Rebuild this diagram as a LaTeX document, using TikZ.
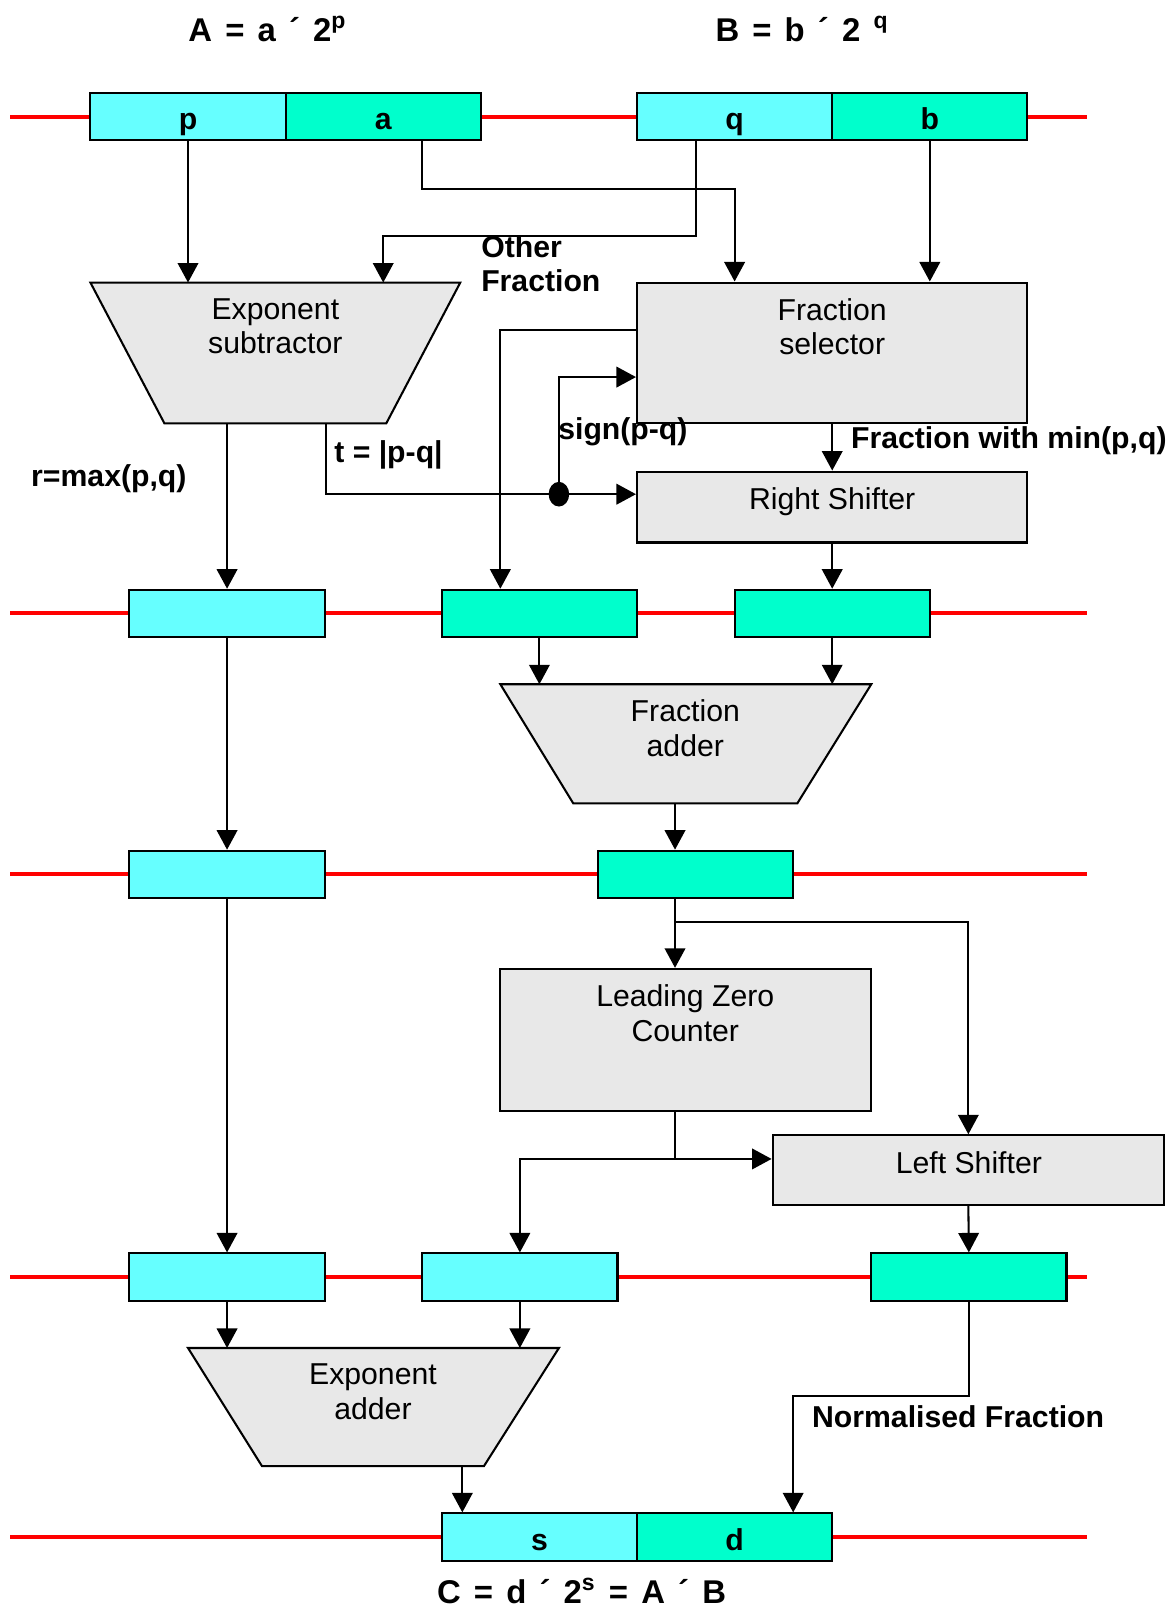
\documentclass[tikz,border=0pt]{standalone}
\usepackage{fontspec}
\setmainfont{Liberation Sans}
\usetikzlibrary{arrows.meta,positioning,shapes.geometric}
\definecolor{expcol}{HTML}{66FFFF}
\definecolor{fraccol}{HTML}{00FFCC}
\definecolor{unitgrey}{HTML}{E8E8E8}
\newcommand\eqnfont{\bfseries\fontsize{16}{19}\selectfont\spaceskip=0.4em\relax}
\tikzset{
  reg/.style={draw, line width=1pt, minimum width=95pt, minimum height=23pt, inner sep=0pt,
    text height=16pt, text depth=3pt, font=\bfseries\fontsize{14.7}{16.8}\selectfont},
  expreg/.style={reg, fill=expcol},
  fracreg/.style={reg, fill=fraccol},
  unit/.style={draw, line width=1pt, fill=unitgrey},
  unittxt/.style={anchor=north, align=center, inner sep=0pt, font=\fontsize{14.7}{16.8}\selectfont},
  lbl/.style={anchor=base west, align=left, inner sep=0pt, font=\bfseries\fontsize{14.7}{16.6}\selectfont},
  eqn/.style={anchor=base west, inner sep=0pt, font=\eqnfont},
  bus/.style={red, line width=2pt},
  arr/.style={line width=1pt, -{Triangle[length=9.5pt,width=10pt]}},
  dotnode/.style={ellipse, fill, inner sep=0pt, minimum width=10pt, minimum height=12pt}
}
\begin{document}
\begin{tikzpicture}[x=0.5pt,y=-0.5pt]
\useasboundingbox (0,0) rectangle (1143,1568);
% red buses
\foreach \y in {113.5,597,851,1243,1496}
  \draw[bus] (10,\y) -- (1058,\y);

% operands
\node[eqn] (tA) at (183,40.6) {A = a ´ 2\textsuperscript{p}};
\node[eqn] (tB) at (696,40.6) {B = b ´ 2 \textsuperscript{q}};
\node[expreg] (pR) at (183,113.5) {p};
\node[fracreg] (aR) at (373,113.5) {a};
\node[expreg] (qR) at (715,113.5) {q};
\node[fracreg] (bR) at (905,113.5) {b};

% stage 1
\draw[unit] (88,275) coordinate (subTL) -- (448,275) -- (376,412) -- (160,412) coordinate (subB) -- cycle;
\node[unittxt] (subT) at (268,290) {Exponent\\subtractor};
\node[unit, minimum width=190pt, minimum height=68.5pt] (fsel) at (810,343.5) {};
\node[unittxt] (fselT) at (810,290) {Fraction\\selector};
\node[unit, minimum width=190pt, minimum height=34.5pt] (rsh) at (810,493.5) {};
\node[unittxt] (rshT) at (810,474) {Right Shifter};

% registers 2
\node[expreg] (e2) at (221,597) {};
\node[fracreg] (f2a) at (525,597) {};
\node[fracreg] (f2b) at (810,597) {};

% stage 2
\draw[unit] (487,666) coordinate (faTL) -- (848,666) -- (776,782) -- (558,782) -- cycle;
\node[unittxt] (faT) at (667,681) {Fraction\\adder};
\coordinate (faOut) at (657,782);

% registers 3
\node[expreg] (e3) at (221,851) {};
\node[fracreg] (f3) at (677,851) {};

% stage 3
\node[unit, minimum width=180.5pt, minimum height=69pt] (lzc) at (667.5,1012) {};
\node[unittxt] (lzcT) at (667,958) {Leading Zero\\Counter};
\node[unit, minimum width=190.5pt, minimum height=34pt] (lsh) at (942.5,1139) {};
\node[unittxt] (lshT) at (943,1120) {Left Shifter};
\coordinate (br) at (657,897);
\coordinate (lzj) at (657,1128);

% registers 4
\node[expreg] (e4a) at (221,1243) {};
\node[expreg] (e4b) at (506,1243) {};
\node[fracreg] (f4) at (943,1243) {};

% stage 4
\draw[unit] (183,1312) coordinate (eaTL) -- (544,1312) -- (471,1427) -- (255,1427) -- cycle;
\node[unittxt] (eaT) at (363,1327) {Exponent\\adder};
\coordinate (eaOut) at (450,1427);

% result
\node[expreg] (sR) at (525,1496) {s};
\node[fracreg] (dR) at (715,1496) {d};
\node[eqn] (tC) at (425,1561) {C = d ´ 2\textsuperscript{s} = A ´ B};

% connectors
\draw[arr] (pR.south) -- (pR.south |- subTL);
\draw[arr] ([xshift=19pt]aR.south) -- ++(0,46) -| (qR.south |- fsel.north);
\draw[arr] ([xshift=-19pt]qR.south) -- ++(0,92) -| (aR.south |- subTL);
\draw[arr] (bR.south) -- (bR.south |- fsel.north);
\draw[arr] ([yshift=11.25pt]fsel.west) -| ([xshift=-19pt]f2a.north);
\draw[arr] (e2.north |- subB) -- (e2.north);
\draw[arr] (e2.east |- subB) |- ([yshift=6.25pt]rsh.west);
\node[dotnode] (jn) at (544,481) {};
\draw[arr] (jn.center) |- ([yshift=-11.75pt]fsel.west);
\draw[arr] (fsel.south) -- (rsh.north);
\draw[arr] (rsh.south) -- (f2b.north);
\draw[arr] (f2a.south) -- (f2a.south |- faTL);
\draw[arr] (f2b.south) -- (f2b.south |- faTL);
\draw[arr] (e2.south) -- (e3.north);
\draw[arr] (faOut) -- (faOut |- f3.north);
\draw[arr] (faOut |- f3.south) -- (faOut |- lzc.north);
\draw[arr] (br) -| (lsh.north);
\draw[arr] (faOut |- lzc.south) -- (lzj) -- (lzj -| lsh.west);
\draw[arr] (lzj) -| (e4b.north);
\draw[arr] (lsh.south) -- (f4.north);
\draw[arr] (e3.south) -- (e4a.north);
\draw[arr] (e4a.south) -- (e4a.south |- eaTL);
\draw[arr] (e4b.south) -- (e4b.south |- eaTL);
\draw[arr] (eaOut) -- (eaOut |- sR.north);
\draw[arr] (f4.south) -- ++(0,92) -| ([xshift=28.5pt]dR.north);

% labels
\node[lbl, anchor=north west] (lOther) at (468,229) {Other\\Fraction};
\node[lbl] (lSign) at (543,427.5) {sign(p-q)};
\node[lbl] (lT) at (325,450.5) {t = |p-q|};
\node[lbl] (lR) at (30,473.5) {r=max(p,q)};
\node[lbl] (lMin) at (828,436.5) {Fraction with min(p,q)};
\node[lbl] (lNorm) at (790,1389.5) {Normalised Fraction};
\end{tikzpicture}
\end{document}
